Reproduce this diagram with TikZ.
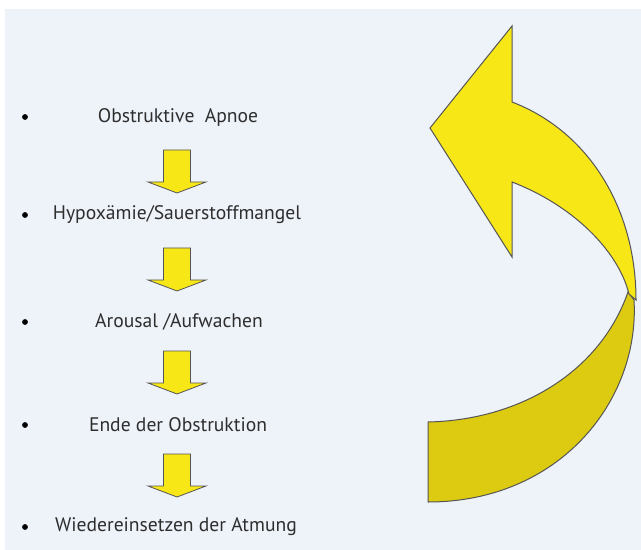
\documentclass[tikz,border=0pt]{standalone}
\usepackage{fontspec}
\setmainfont{PT Sans}
\definecolor{panelbg}{HTML}{EEF2F9}
\definecolor{arrowyellow}{HTML}{F8E716}
\definecolor{arrowdark}{HTML}{DDCB12}
\definecolor{edgegrey}{HTML}{555555}
\definecolor{textgrey}{HTML}{2E2E2E}
\tikzset{
  stepitem/.style={text=textgrey, font=\fontsize{9.8}{12}\selectfont, inner sep=0pt},
  bullet/.style={circle, fill=black, inner sep=0pt, minimum size=2.9pt},
  downarrow/.pic={
    \path[fill=arrowyellow, draw=edgegrey, line width=0.4pt]
      (-13.5,0) -- (13.5,0) -- (13.5,32) -- (29,32) -- (0,43)
      -- (-29,32) -- (-13.5,32) -- cycle;
  }
}
\begin{document}
\begin{tikzpicture}[x=0.5pt, y=-0.5pt]

      \useasboundingbox (0,0) rectangle (641,550);
      \fill[panelbg] (5,9) rectangle (641,550);

      % list of steps
      \begin{scope}[every node/.style={stepitem}]
        \node (s1) at (178,117) {Obstruktive~\ Apnoe};
        \node (s2) at (177,215) {Hypoxämie/Sauerstoffmangel};
        \node (s3) at (179,322) {Arousal /Aufwachen};
        \node (s4) at (178,425) {Ende der Obstruktion};
        \node (s5) at (176,527) {Wiedereinsetzen der Atmung};
      \end{scope}

      \begin{scope}[every node/.style={bullet}]
        \node (b1) at (25,117) {};
        \node (b2) at (25,215) {};
        \node (b3) at (25,322) {};
        \node (b4) at (25,425) {};
        \node (b5) at (25,527) {};
      \end{scope}

      % arrows between the steps
      \pic at (177,150) {downarrow};
      \pic at (177,248) {downarrow};
      \pic at (177,351) {downarrow};
      \pic at (177,454) {downarrow};

      % big returning arrow, back part first
      \path[fill=arrowdark, draw=edgegrey, line width=0.5pt]
        (428,422) .. controls (520,420) and (600,372) .. (628,292)
        -- (634,300) .. controls (640,400) and (560,502) .. (428,502) -- cycle;
      \path[fill=arrowyellow, draw=edgegrey, line width=0.5pt]
        (430,128) -- (512,26) -- (512,102)
        .. controls (590,132) and (636,210) .. (636,300)
        -- (629,294) .. controls (618,250) and (572,205) .. (512,182)
        -- (512,257) -- cycle;

    \end{tikzpicture}
\end{document}
